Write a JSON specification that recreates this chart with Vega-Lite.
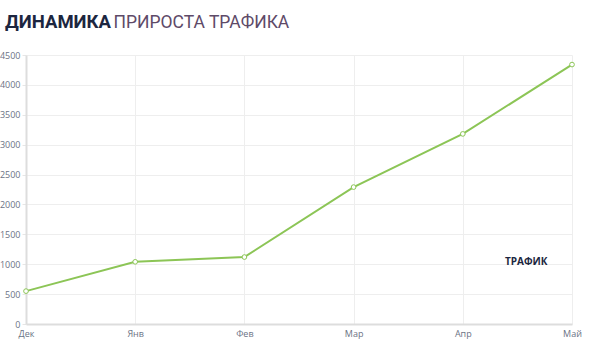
{
  "$schema": "https://vega.github.io/schema/vega-lite/v6.json",
  "autosize": {"type": "none"},
  "width": 546,
  "height": 269,
  "padding": {"left": 26, "top": 55, "right": 32, "bottom": 25},
  "background": "white",
  "title": {
    "text": "ДИНАМИКА",
    "anchor": "start",
    "frame": "group",
    "dx": -21,
    "offset": -33,
    "baseline": "alphabetic",
    "font": "Roboto",
    "fontSize": 18.5,
    "fontWeight": "bold",
    "color": "#1c2640"
  },
  "data": {
    "values": [
      {"month": "Дек", "value": 550, "series": "ТРАФИК"},
      {"month": "Янв", "value": 1040, "series": "ТРАФИК"},
      {"month": "Фев", "value": 1120, "series": "ТРАФИК"},
      {"month": "Мар", "value": 2290, "series": "ТРАФИК"},
      {"month": "Апр", "value": 3180, "series": "ТРАФИК"},
      {"month": "Май", "value": 4340, "series": "ТРАФИК"}
    ]
  },
  "config": {
    "view": {"stroke": null},
    "axis": {
      "labelFont": "Open Sans",
      "labelFontSize": 9,
      "labelColor": "#6b7385",
      "gridColor": "#eeeeee",
      "gridWidth": 1,
      "tickColor": "#e6e6e6",
      "domainColor": "#dddddd",
      "domainWidth": 2
    }
  },
  "encoding": {
    "x": {
      "field": "month",
      "type": "ordinal",
      "sort": null,
      "scale": {"type": "point", "padding": 0},
      "axis": {"labelAngle": 0, "grid": true, "ticks": false, "labelPadding": 5, "title": null}
    },
    "y": {
      "field": "value",
      "type": "quantitative",
      "scale": {"domain": [0, 4500], "nice": false},
      "axis": {
        "values": [0, 500, 1000, 1500, 2000, 2500, 3000, 3500, 4000, 4500],
        "format": "d",
        "tickSize": 4,
        "labelPadding": 2,
        "title": "ПРИРОСТА ТРАФИКА",
        "titleAngle": 0,
        "titleAlign": "left",
        "titleBaseline": "alphabetic",
        "titleX": 87,
        "titleY": -28,
        "titleFont": "Roboto",
        "titleFontSize": 17.5,
        "titleFontWeight": "normal",
        "titleColor": "#5e4a68"
      }
    },
    "color": {
      "field": "series",
      "type": "nominal",
      "scale": {"range": ["#8cc556"]},
      "legend": {
        "orient": "none",
        "legendX": 465,
        "legendY": 202,
        "symbolOpacity": 0,
        "symbolSize": 0,
        "labelFont": "Open Sans",
        "labelFontSize": 10,
        "labelFontWeight": "bold",
        "labelColor": "#1c2640",
        "title": null
      }
    }
  },
  "layer": [
    {"mark": {"type": "line", "strokeWidth": 2}},
    {"mark": {"type": "point", "filled": true, "fill": "white", "strokeWidth": 1, "size": 22, "opacity": 1}, "encoding": {"stroke": {"field": "series", "type": "nominal", "scale": {"range": ["#8cc556"]}, "legend": null}}}
  ]
}
